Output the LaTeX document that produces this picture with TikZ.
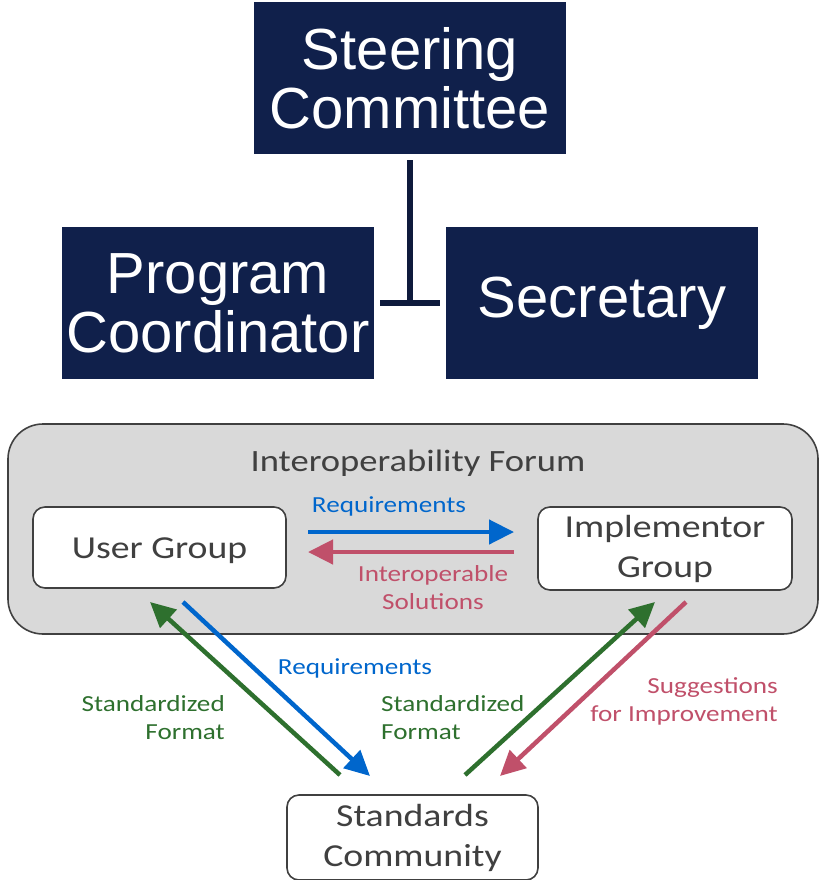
\documentclass[tikz,border=0pt]{standalone}
\usepackage{fontspec}
\usepackage{xcolor}
\usepackage{tikz}
\usetikzlibrary{arrows.meta,positioning,calc}
\newfontfamily\arialfont{Liberation Sans}
\newfontfamily\calibfont[FakeStretch=1.18]{Carlito}
\definecolor{navy}{RGB}{16,32,75}
\definecolor{navyline}{RGB}{14,26,60}
\definecolor{forumgray}{RGB}{217,217,217}
\definecolor{edgegray}{RGB}{64,64,64}
\definecolor{textgray}{RGB}{64,64,64}
\definecolor{reqblue}{RGB}{0,102,204}
\definecolor{solpink}{RGB}{192,80,106}
\definecolor{fmtgreen}{RGB}{46,112,46}
\tikzset{>=stealth,
  darkbox/.style={fill=navy, text=white, minimum width=312pt, minimum height=152pt,
    inner sep=0pt, align=center, font=\arialfont\fontsize{58}{59}\selectfont},
  groupbox/.style={draw=edgegray, line width=1.6pt, fill=white, rounded corners=12pt,
    inner sep=0pt, align=center, text=textgray, font=\calibfont\fontsize{32}{40}\selectfont},
  flowarrow/.style={line width=4.5pt, -{Triangle[length=25pt,width=24pt]}},
  flowlabel/.style={inner sep=0pt, font=\calibfont\fontsize{23}{28}\selectfont},
}

\begin{document}
\begin{tikzpicture}[x=1pt, y=-1pt]
	\useasboundingbox (0,0) rectangle (819,880);
	% Leadership
	\node[darkbox] (steer) at (410,78) {Steering\\Committee};
	\node[darkbox] (prog) at (218,303) {Program\\Coordinator};
	\node[darkbox] (sec) at (602,303) {Secretary};
	\coordinate (junc) at (410,303);
	\draw[navyline, line width=6pt] ([yshift=-6pt]steer.south) -- (junc);
	\draw[navyline, line width=6pt] ([xshift=6pt]prog.east) -- ([xshift=-6pt]sec.west);
	% Interoperability forum
	\node[draw=edgegray, line width=1.6pt, fill=forumgray, rounded corners=35pt,
	  minimum width=810pt, minimum height=210pt] (forum) at (413,529) {};
	\node[font=\calibfont\fontsize{31}{36}\selectfont, text=textgray] (forumtitle) at (418,463) {Interoperability Forum};
	\node[groupbox, minimum width=253pt, minimum height=81pt, text height=27pt, text depth=6pt] (user) at (159.5,547.5) {User Group};
	\node[groupbox, minimum width=254pt, minimum height=83pt] (impl) at (665,548.5) {Implementor\\Group};
	% Standards community
	\node[groupbox, minimum width=251pt, minimum height=85pt] (std) at (412.5,837.5) {Standards\\Community};
	% Arrows inside the forum
	\coordinate (reqA) at (308,532);
	\coordinate (reqB) at (514,532);
	\coordinate (solA) at (514,552);
	\coordinate (solB) at (308,552);
	\draw[flowarrow, reqblue] (reqA) -- (reqB);
	\draw[flowarrow, solpink] (solA) -- (solB);
	\node[flowlabel, text=reqblue] (reqlbl) at (389,506) {Requirements};
	\node[flowlabel, text=solpink, align=center] (sollbl) at (433,588) {Interoperable\\Solutions};
	% Arrows to and from the standards community
	\coordinate (gl1) at (340,775);
	\coordinate (gl2) at (150,602);
	\coordinate (bl1) at (183,602);
	\coordinate (bl2) at (370,776);
	\coordinate (gr1) at (465,775);
	\coordinate (gr2) at (655,602);
	\coordinate (pr1) at (686,602);
	\coordinate (pr2) at (500,776);
	\draw[flowarrow, fmtgreen] (gl1) -- (gl2);
	\draw[flowarrow, reqblue] (bl1) -- (bl2);
	\draw[flowarrow, fmtgreen] (gr1) -- (gr2);
	\draw[flowarrow, solpink] (pr1) -- (pr2);
	\node[flowlabel, text=reqblue] (reqlbl2) at (355,668) {Requirements};
	\node[flowlabel, text=fmtgreen, align=right, anchor=east] (fmtleft) at (225,718) {Standardized\\Format};
	\node[flowlabel, text=fmtgreen, align=left, anchor=west] (fmtmid) at (381,718) {Standardized\\Format};
	\node[flowlabel, text=solpink, align=right, anchor=east] (sugg) at (778,701) {Suggestions\\for Improvement};
\end{tikzpicture}
\end{document}
